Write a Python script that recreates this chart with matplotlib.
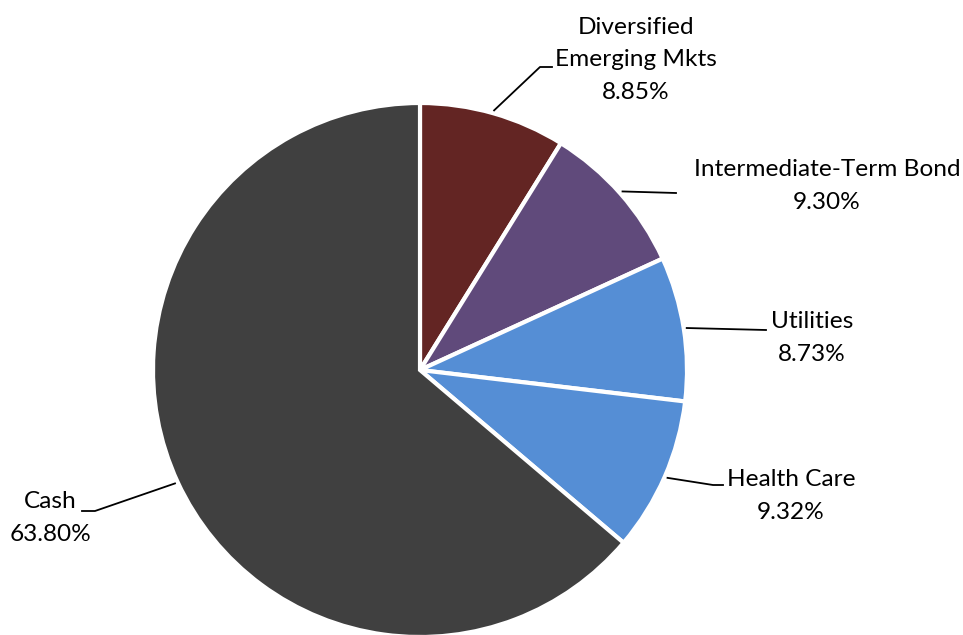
import numpy as np
import matplotlib.pyplot as plt

plt.rcParams["font.family"] = ["Lato", "DejaVu Sans"]

labels = ["Diversified\nEmerging Mkts", "Intermediate-Term Bond", "Utilities", "Health Care", "Cash"]
values = [8.85, 9.30, 8.73, 9.32, 63.80]
colors = ["#632523", "#604A7B", "#558ED5", "#558ED5", "#404040"]

# label text centre, leader elbow, leader end (pixel coords, y down)
text_pos = [(636, 60), (827, 186), (812, 338), (791, 496), (50, 518)]
elbows = [(540, 67), (676, 193), (766, 330), (713, 485), (95, 511)]
ends = [(552, 67), (676, 193), (766, 330), (723, 485), (82, 511)]

W, H = 963, 635
cx, cy, R = 420, 370, 267

fig = plt.figure(figsize=(W / 100, H / 100), dpi=100)
ax = fig.add_axes([0, 0, 1, 1])
ax.set_xlim(0, W)
ax.set_ylim(0, H)
ax.set_aspect("equal")
ax.axis("off")

wedges, _ = ax.pie(values, colors=colors, startangle=90, counterclock=False,
                   center=(cx, H - cy), radius=R,
                   wedgeprops=dict(edgecolor="white", linewidth=3))
ax.set_xlim(0, W)
ax.set_ylim(0, H)

for w, lab, v, tp, el, en in zip(wedges, labels, values, text_pos, elbows, ends):
    mid = np.deg2rad((w.theta1 + w.theta2) / 2)
    sx = cx + (R + 3) * np.cos(mid)
    sy = (H - cy) + (R + 3) * np.sin(mid)
    ax.plot([sx, el[0], en[0]], [sy, H - el[1], H - en[1]], color="black", lw=1.3)
    ax.text(tp[0], H - tp[1], "{}\n{:.2f}%".format(lab, v), ha="center", va="center",
            fontsize=17.6, linespacing=1.68, color="black")

fig.savefig("out.png", dpi=100)
